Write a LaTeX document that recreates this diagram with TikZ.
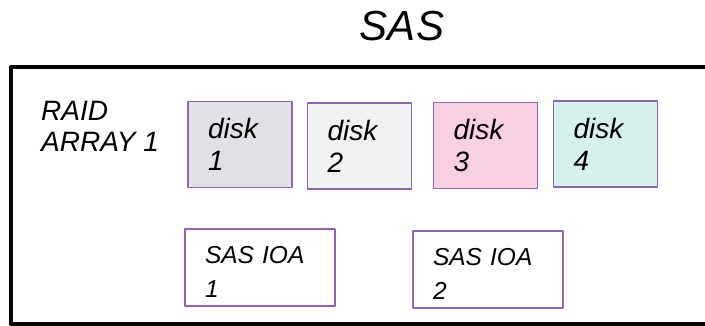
\documentclass[tikz,border=0pt]{standalone}
\usepackage{fontspec}
\setmainfont{Liberation Sans}
\definecolor{boxline}{RGB}{142,99,176}
\definecolor{diskgray}{RGB}{224,225,228}
\definecolor{disklight}{RGB}{240,241,243}
\definecolor{diskpink}{RGB}{248,208,227}
\definecolor{diskteal}{RGB}{214,240,236}
\newcommand{\ioaline}[1]{\rule{0pt}{26pt}#1}
\begin{document}
\begin{tikzpicture}[x=1pt,y=-1pt,line join=round,
  diskbox/.style={draw=boxline,line width=1.5pt,minimum width=104pt,minimum height=86pt,
    text width=64pt,inner xsep=20pt,align=left,font=\fontsize{28}{32}\selectfont\itshape},
  ioabox/.style={draw=boxline,line width=1.5pt,minimum width=150pt,minimum height=77pt,
    text width=110pt,inner xsep=20pt,align=left,font=\fontsize{24.5}{34}\selectfont\itshape}]
\clip(0,0) rectangle (705,325);
\draw[line width=4pt](710,67)--(10.5,67)--(10.5,323.5)--(710,323.5);
\node[anchor=base,font=\fontsize{42}{48}\selectfont\itshape] (title) at (402,40) {SAS};
\node[anchor=north west,inner sep=0pt,align=left,font=\fontsize{28}{31}\selectfont\itshape] (raid) at (41,101) {RAID\\ARRAY 1};
\node[diskbox,fill=diskgray] (disk1) at (240,144.5) {disk\\1};
\node[diskbox,fill=disklight] (disk2) at (359.5,146) {disk\\2};
\node[diskbox,fill=diskpink] (disk3) at (485.5,145.5) {disk\\3};
\node[diskbox,fill=diskteal] (disk4) at (605.5,144) {disk\\4};
\node[ioabox] (ioa1) at (260,267.5) {\ioaline{SAS IOA}\\1};
\node[ioabox] (ioa2) at (488,269.5) {\ioaline{SAS IOA}\\2};
\end{tikzpicture}
\end{document}
